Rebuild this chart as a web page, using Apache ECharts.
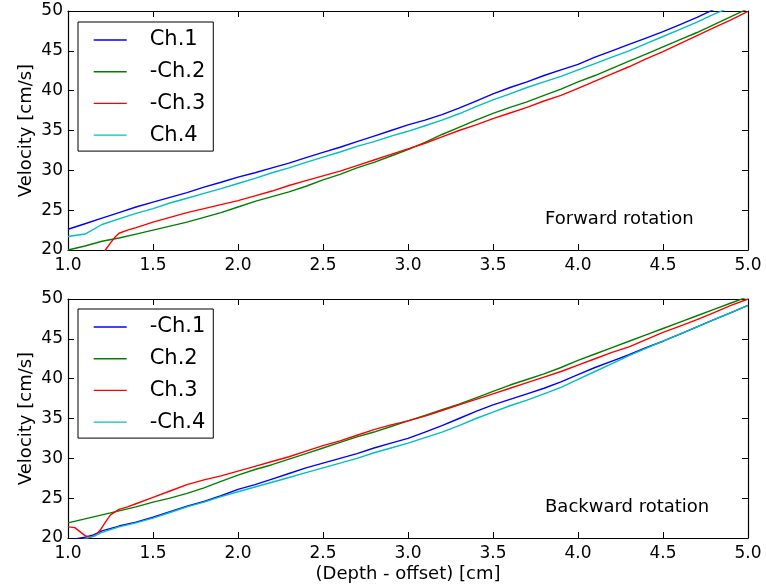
<!DOCTYPE html>
<html>
<head>
<meta charset="utf-8">
<script src="https://cdn.jsdelivr.net/npm/echarts@6/dist/echarts.min.js"></script>
<style>
html,body{margin:0;padding:0;background:#fff;}
#chart{width:766px;height:585px;}
</style>
</head>
<body>
<div id="chart"></div>
<script>
// ---------- data ----------
const xTicks = [1.0, 1.5, 2.0, 2.5, 3.0, 3.5, 4.0, 4.5, 5.0];
const yTicks = [20, 25, 30, 35, 40, 45, 50];

const gridX = [1.0,1.1,1.2,1.3,1.4,1.5,1.6,1.7,1.8,1.9,2.0,2.1,2.2,2.3,2.4,2.5,2.6,2.7,2.8,2.9,3.0,
               3.1,3.2,3.3,3.4,3.5,3.6,3.7,3.8,3.9,4.0,4.1,4.2,4.3,4.4,4.5,4.6,4.7,4.8,4.9,5.0];

// Forward rotation
const fwdCh1 = [22.6,23.3,24.0,24.7,25.4,26.0,26.6,27.2,27.9,28.5,29.15,29.7,30.3,30.9,31.6,32.25,32.9,33.6,34.3,35.0,35.7,
                36.3,37.0,37.8,38.7,39.6,40.4,41.1,41.9,42.6,43.3,44.2,45.0,45.8,46.6,47.4,48.3,49.2,50.2,null,null];
const fwdCh2 = [20.0,20.5,21.1,21.5,22.0,22.5,23.0,23.5,24.1,24.7,25.4,26.1,26.7,27.3,28.0,28.8,29.5,30.3,31.0,31.8,32.6,
                33.5,34.5,35.4,36.3,37.15,37.9,38.6,39.4,40.2,41.1,41.9,42.8,43.7,44.6,45.5,46.4,47.3,48.3,49.3,50.3];
const fwdCh3X = [1.2,1.22,1.25,1.28,1.3,1.35,1.4,1.5,1.6,1.7,1.8,1.9,2.0,2.1,2.2,2.3,2.4,2.5,2.6,2.7,2.8,2.9,3.0,
                 3.1,3.2,3.3,3.4,3.5,3.6,3.7,3.8,3.9,4.0,4.1,4.2,4.3,4.4,4.5,4.6,4.7,4.8,4.9,5.0];
const fwdCh3 = [19.4,20.0,20.9,21.7,22.1,22.5,22.8,23.5,24.1,24.7,25.2,25.7,26.2,26.8,27.4,28.1,28.7,29.3,29.9,30.6,31.3,32.0,32.7,
                33.4,34.2,35.0,35.7,36.5,37.2,37.9,38.7,39.4,40.3,41.2,42.1,43.0,44.0,44.9,45.9,46.9,47.9,48.9,49.95];
const fwdCh4 = [21.7,22.0,23.2,23.9,24.6,25.2,25.9,26.5,27.1,27.7,28.35,29.0,29.7,30.3,31.0,31.65,32.3,33.0,33.6,34.3,34.9,
                35.6,36.3,37.1,38.0,38.85,39.6,40.4,41.1,41.8,42.6,43.4,44.2,45.0,45.9,46.8,47.7,48.6,49.6,50.5,null];

// Backward rotation
const bwdX2 = [1.0,1.05,1.1,1.15,1.2,1.3,1.4,1.5,1.6,1.7,1.8,1.9,2.0,2.1,2.2,2.3,2.4,2.5,2.6,2.7,2.8,2.9,3.0,
               3.1,3.2,3.3,3.4,3.5,3.6,3.7,3.8,3.9,4.0,4.1,4.2,4.3,4.4,4.5,4.6,4.7,4.8,4.9,5.0];
const bwdCh1 = [19.6,19.9,20.1,20.4,20.9,21.5,22.0,22.6,23.3,24.0,24.6,25.3,26.1,26.7,27.4,28.1,28.8,29.4,30.0,30.6,31.3,31.9,32.5,
                33.3,34.1,35.0,35.9,36.7,37.4,38.1,38.8,39.6,40.5,41.4,42.2,43.0,43.9,44.7,45.6,46.5,47.4,48.3,49.2];
const bwdCh2 = [21.9,22.4,22.9,23.4,23.9,24.5,25.0,25.6,26.3,27.1,27.9,28.6,29.2,29.9,30.6,31.3,32.0,32.7,33.3,34.0,34.7,
                35.4,36.1,36.8,37.6,38.4,39.2,39.9,40.6,41.4,42.3,43.1,43.9,44.7,45.5,46.3,47.1,47.9,48.7,49.5,50.3];
const bwdCh3X = [1.0,1.04,1.07,1.1,1.13,1.16,1.19,1.22,1.25,1.3,1.35,1.4,1.5,1.6,1.7,1.8,1.9,2.0,2.1,2.2,2.3,2.4,2.5,
                 2.6,2.7,2.8,2.9,3.0,3.1,3.2,3.3,3.4,3.5,3.6,3.7,3.8,3.9,4.0,4.1,4.2,4.3,4.4,4.5,4.6,4.7,4.8,4.9,5.0];
const bwdCh3 = [21.4,21.3,20.8,20.3,20.1,20.3,21.0,22.0,22.9,23.6,23.9,24.3,25.1,25.9,26.7,27.3,27.8,28.4,29.0,29.6,30.2,30.9,31.6,
                32.2,32.9,33.6,34.2,34.7,35.3,36.0,36.7,37.4,38.1,38.8,39.5,40.2,40.9,41.7,42.5,43.3,44.0,44.9,45.8,46.6,47.4,48.3,49.2,50.0];
const bwdCh4 = [19.3,19.6,19.9,20.2,20.7,21.4,21.9,22.5,23.2,23.9,24.5,25.2,25.8,26.4,27.0,27.6,28.2,28.8,29.4,30.0,30.7,31.3,31.9,
                32.6,33.3,34.1,35.0,35.8,36.6,37.3,38.1,38.9,39.9,40.9,41.9,42.9,43.8,44.7,45.6,46.5,47.4,48.3,49.2];

const fwdNames = ['Ch.1', '-Ch.2', '-Ch.3', 'Ch.4'];
const bwdNames = ['-Ch.1', 'Ch.2', 'Ch.3', '-Ch.4'];
const colors = ['#0000ff', '#008000', '#ff0000', '#00bfbf'];
const panelTexts = ['Forward rotation', 'Backward rotation'];
const xTitle = '(Depth - offset) [cm]';
const yTitle = 'Velocity [cm/s]';

// ---------- chart ----------
const FONT = 'DejaVu Sans';
function pairs(xs, ys) {
  const out = [];
  for (let i = 0; i < xs.length; i++) if (ys[i] != null) out.push([xs[i], ys[i]]);
  return out;
}
const grids = [
  {left: 68, right: 18, top: 11, height: 239},
  {left: 68, right: 18, top: 299, height: 239}
];
const xMin = xTicks[0], xMax = xTicks[xTicks.length - 1], xInt = xTicks[1] - xTicks[0];
const yMin = yTicks[0], yMax = yTicks[yTicks.length - 1], yInt = yTicks[1] - yTicks[0];

const axisLine = {show: true, onZero: false, lineStyle: {color: '#000', width: 1.2}};
const axisTick = {show: true, inside: true, length: 6, lineStyle: {color: '#000', width: 1}};
const xAxes = [], yAxes = [];
for (let g = 0; g < 2; g++) {
  xAxes.push({
    type: 'value', gridIndex: g, position: 'bottom', min: xMin, max: xMax, interval: xInt,
    axisLine, axisTick, splitLine: {show: false},
    axisLabel: {show: true, color: '#000', fontFamily: FONT, fontSize: 17, margin: 7,
      formatter: v => v.toFixed(1)},
    name: g === 1 ? xTitle : '', nameLocation: 'middle', nameGap: 27,
    nameTextStyle: {color: '#000', fontFamily: FONT, fontSize: 18}
  });
  xAxes.push({
    type: 'value', gridIndex: g, position: 'top', min: xMin, max: xMax, interval: xInt,
    axisLine, axisTick, splitLine: {show: false}, axisLabel: {show: false}
  });
  yAxes.push({
    type: 'value', gridIndex: g, position: 'left', min: yMin, max: yMax, interval: yInt,
    axisLine, axisTick, splitLine: {show: false},
    axisLabel: {show: true, color: '#000', fontFamily: FONT, fontSize: 17, margin: 5},
    name: yTitle, nameLocation: 'middle', nameGap: 33, nameRotate: 90, nameMoveOverlap: false,
    nameTextStyle: {color: '#000', fontFamily: FONT, fontSize: 18}
  });
  yAxes.push({
    type: 'value', gridIndex: g, position: 'right', min: yMin, max: yMax, interval: yInt,
    axisLine, axisTick, splitLine: {show: false}, axisLabel: {show: false}
  });
}

const series = [];
const fwdData = [pairs(gridX, fwdCh1), pairs(gridX, fwdCh2), pairs(fwdCh3X, fwdCh3), pairs(gridX, fwdCh4)];
const bwdData = [pairs(bwdX2, bwdCh1), pairs(gridX, bwdCh2), pairs(bwdCh3X, bwdCh3), pairs(bwdX2, bwdCh4)];
for (let i = 0; i < 4; i++) {
  series.push({name: fwdNames[i], type: 'line', xAxisIndex: 0, yAxisIndex: 0, data: fwdData[i],
    symbol: 'none', clip: true, color: colors[i], lineStyle: {width: 1.4, color: colors[i]}, animation: false});
}
for (let i = 0; i < 4; i++) {
  series.push({name: bwdNames[i], type: 'line', xAxisIndex: 2, yAxisIndex: 2, data: bwdData[i],
    symbol: 'none', clip: true, color: colors[i], lineStyle: {width: 1.4, color: colors[i]}, animation: false});
}

function legend(names, top) {
  return {
    data: names, orient: 'vertical', left: 78, top: top,
    itemWidth: 33, itemHeight: 22, itemGap: 9.7,
    padding: [7, 8, 5, 15],
    borderColor: '#000', borderWidth: 1, backgroundColor: '#fff', borderRadius: 0,
    selectedMode: false,
    itemStyle: {opacity: 0},
    lineStyle: {width: 1.4},
    textStyle: {color: '#000', fontFamily: FONT, fontSize: 21, lineHeight: 22, padding: [0, 0, 0, 18]}
  };
}

const chart = echarts.init(document.getElementById('chart'), null, {renderer: 'canvas'});
chart.setOption({
  animation: false,
  backgroundColor: '#fff',
  grid: grids,
  xAxis: xAxes,
  yAxis: yAxes,
  legend: [legend(fwdNames, 22), legend(bwdNames, 309)],
  series: series,
  graphic: [
    {type: 'text', left: 545, top: 210, silent: true,
     style: {text: panelTexts[0], fill: '#000', font: '18px "DejaVu Sans"'}},
    {type: 'text', left: 545, top: 498, silent: true,
     style: {text: panelTexts[1], fill: '#000', font: '18px "DejaVu Sans"'}}
  ]
});
</script>
</body>
</html>
